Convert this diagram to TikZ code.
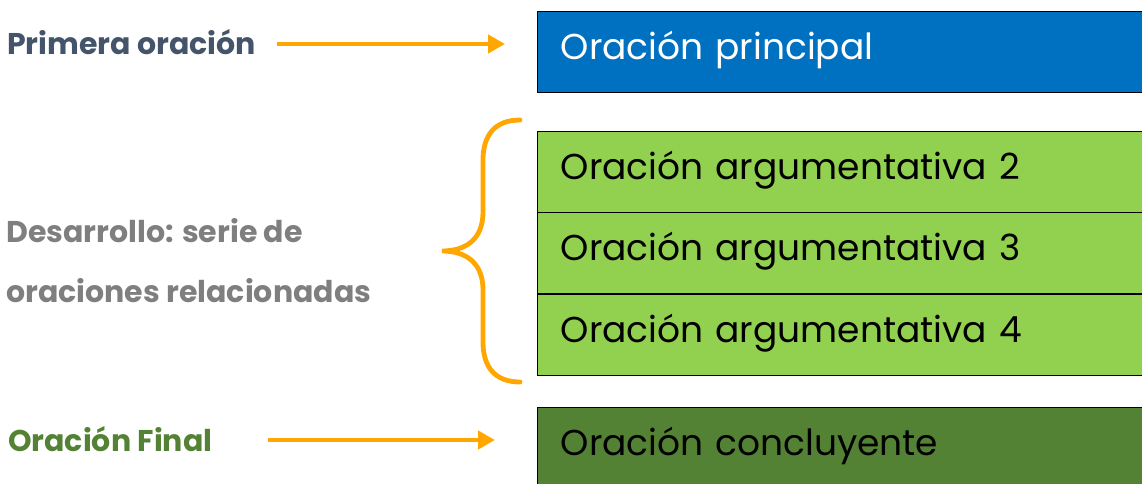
\documentclass[tikz,border=0pt]{standalone}
\usepackage{fontspec}
\setmainfont{Poppins}
\usetikzlibrary{arrows.meta}
\definecolor{accent}{RGB}{255,167,0}
\definecolor{mainblue}{RGB}{0,112,192}
\definecolor{lightgreen}{RGB}{146,208,80}
\definecolor{darkgreen}{RGB}{84,130,53}
\definecolor{slate}{RGB}{68,84,106}
\definecolor{midgray}{RGB}{127,127,127}
\begin{document}
\begin{tikzpicture}[x=1pt,y=-1pt,
  box/.style={draw=black, line width=1.4pt, anchor=north west,
    minimum width=640pt, minimum height=81pt, inner xsep=23pt, inner ysep=0pt,
    text width=594pt, align=left, font=\fontsize{36}{36}\selectfont,
    text height=23pt, text depth=8pt},
  sidelabel/.style={anchor=base west, inner sep=0pt, font=\fontsize{30}{30}\selectfont\bfseries},
  pointer/.style={draw=accent, line width=4.8pt, -{Triangle[length=17pt,width=18pt]}},
  bracket/.style={draw=accent, line width=4.8pt, line cap=round}
]
\useasboundingbox (0,0) rectangle (1142,484);
\clip (0,0) rectangle (1142,484);

% sentence boxes
\node[box, fill=mainblue, text=white] (principal) at (537,11) {Oración principal};
\node[box, fill=lightgreen] (arg2) at (537,131) {Oración argumentativa 2};
\node[box, fill=lightgreen] (arg3) at (537,212) {Oración argumentativa 3};
\node[box, fill=lightgreen] (arg4) at (537,294) {Oración argumentativa 4};
\node[box, fill=darkgreen] (final) at (537,407) {Oración concluyente};

% side labels
\node[sidelabel, text=slate] (primera) at (7,55) {Primera oración};
\node[sidelabel, text=midgray] (desarrollo1) at (6,242) {Desarrollo: serie de};
\node[sidelabel, text=midgray] (desarrollo2) at (6,302) {oraciones relacionadas};
\node[sidelabel, text=darkgreen] (cierre) at (8,451) {Oración Final};

% arrows
\coordinate (a1s) at (277,44);
\coordinate (a1e) at (505,44);
\coordinate (a2s) at (268,440);
\coordinate (a2e) at (495,440);
\draw[pointer] (a1s) -- (a1e);
\draw[pointer] (a2s) -- (a2e);

% curly bracket grouping the development sentences
\draw[bracket] (520,120) .. controls (495,120) and (483,135) .. (483,160)
  -- (483,212) .. controls (483,240) and (465,251) .. (442,251)
  .. controls (465,251) and (483,262) .. (483,290)
  -- (483,342) .. controls (483,367) and (495,382) .. (520,382);
\end{tikzpicture}
\end{document}
